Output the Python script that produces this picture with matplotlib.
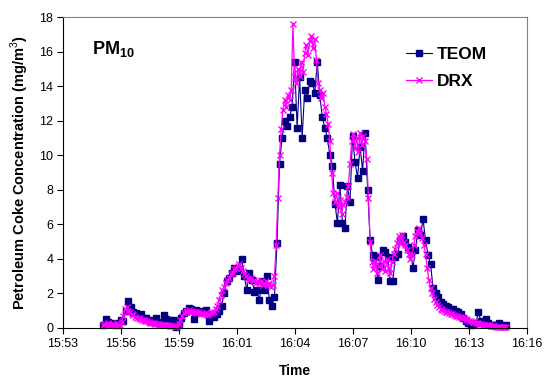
import numpy as np
import matplotlib
matplotlib.use('Agg')
import matplotlib.pyplot as plt

plt.rcParams['font.family'] = ['Liberation Sans', 'DejaVu Sans']
plt.rcParams['mathtext.fontset'] = 'custom'
plt.rcParams['mathtext.bf'] = 'Liberation Sans:bold'
plt.rcParams['mathtext.rm'] = 'Liberation Sans'

# time axis in minutes after 15:53
tick_pos = [0, 2.88, 5.76, 8.64, 11.52, 14.40, 17.28, 20.16, 23.04]
tick_labels = ['15:53', '15:56', '15:59', '16:01', '16:04', '16:07', '16:10', '16:13', '16:16']

# DRX: one reading every 5 s starting at 15:55
drx_start, drx_step = 2.0, 1 / 12
drx = [
    0.2, 0.25, 0.15, 0.3, 0.2, 0.15, 0.25, 0.2, 0.3, 0.2, 0.15, 0.35,
    0.7, 1.1, 1.2, 1.0, 0.9, 0.8, 0.75, 0.65, 0.6, 0.55, 0.5, 0.45,
    0.45, 0.4, 0.38, 0.35, 0.3, 0.3, 0.28, 0.25, 0.25, 0.22, 0.2, 0.2,
    0.2, 0.18, 0.15, 0.15, 0.12, 0.1, 0.1, 0.08, 0.1, 0.25, 0.45, 0.7,
    0.85, 0.95, 1.0, 1.05, 1.0, 0.95, 0.9, 0.95, 0.85, 0.9, 0.8, 0.85,
    0.8, 0.85, 0.75, 0.8, 0.9, 0.85, 0.9, 1.1, 1.3, 1.6, 1.9, 2.2,
    2.4, 2.6, 2.8, 2.9, 3.1, 3.2, 3.4, 3.5, 3.6, 3.7, 3.5, 3.3,
    3.1, 3.0, 2.9, 2.8, 2.9, 2.7, 2.8, 2.6, 2.7, 2.6, 2.7, 2.5,
    2.6, 2.7, 2.5, 2.6, 2.4, 2.5, 3.0, 4.8, 7.5, 10.0, 11.5, 12.6,
    13.2, 12.8, 13.5, 13.2, 13.8, 17.6, 14.5, 14.2, 15.0, 14.6, 15.4, 14.8,
    15.9, 16.4, 15.8, 16.6, 16.9, 16.2, 16.7, 15.5, 14.2, 13.8, 13.3, 13.6,
    12.8, 12.4, 11.8, 10.8, 9.0, 7.8, 7.3, 7.8, 7.0, 7.4, 6.6, 7.1,
    7.3, 7.6, 8.2, 9.5, 10.8, 11.2, 10.4, 11.0, 10.2, 11.3, 10.6, 11.1,
    10.8, 9.8, 7.5, 5.0, 3.8, 3.4, 3.9, 3.2, 3.6, 4.2, 3.4, 3.9,
    3.3, 4.0, 3.5, 3.2, 3.8, 4.3, 4.6, 4.9, 5.3, 4.9, 5.4, 5.0,
    4.8, 4.5, 4.3, 4.0, 4.2, 4.8, 5.3, 5.6, 5.8, 5.5, 5.2, 4.8,
    4.3, 3.5, 2.8, 2.3, 2.0, 1.7, 1.5, 1.35, 1.2, 1.1, 1.05, 1.0,
    0.95, 0.9, 0.85, 0.82, 0.8, 0.75, 0.72, 0.7, 0.65, 0.62, 0.6, 0.55,
    0.5, 0.45, 0.42, 0.4, 0.35, 0.32, 0.3, 0.28, 0.25, 0.22, 0.2, 0.2,
    0.18, 0.15, 0.15, 0.12, 0.1, 0.1, 0.08, 0.08, 0.07, 0.06, 0.06, 0.05,
    0.05,
]

# TEOM: one reading every 7.5 s starting at 15:55
teom_start, teom_step = 2.0, 1 / 8
teom = [
    0.2, 0.5, 0.35, 0.3, 0.25, 0.2, 0.3, 0.45,
    0.4, 1.0, 1.55, 1.2, 0.9, 0.85, 0.75, 0.8,
    0.6, 0.55, 0.45, 0.4, 0.35, 0.55, 0.3, 0.35,
    0.75, 0.5, 0.45, 0.3, 0.45, 0.05, 0.2, 0.6,
    0.85, 1.0, 1.15, 1.1, 0.5, 1.05, 0.9, 1.0,
    0.95, 1.05, 0.4, 0.7, 0.65, 0.8, 1.0, 1.3,
    2.0, 2.7, 2.9, 3.2, 3.5, 3.3, 3.4, 4.0,
    3.0, 2.2, 3.2, 2.8, 2.1, 2.2, 1.6, 2.7,
    2.2, 3.0, 1.6, 1.3, 1.8, 4.9, 9.5, 11.0,
    12.0, 11.7, 12.2, 12.8, 15.4, 11.6, 14.5, 11.0,
    13.8, 13.3, 14.3, 14.2, 13.6, 15.4, 13.5, 12.2,
    11.6, 11.0, 10.0, 9.4, 7.2, 6.1, 8.3, 6.1,
    5.8, 8.2, 7.3, 11.1, 9.6, 8.7, 10.5, 9.1,
    11.3, 8.0, 5.1, 4.2, 4.1, 2.8, 3.6, 4.5,
    4.4, 4.1, 2.7, 2.7, 4.1, 4.3, 5.1, 5.3,
    5.0, 4.7, 4.5, 3.5, 4.5, 5.7, 5.4, 6.3,
    5.1, 4.2, 3.7, 2.3, 2.0, 1.8, 1.5, 1.4,
    1.3, 1.2, 1.1, 1.1, 1.0, 0.95, 0.8, 0.6,
    0.4, 0.3, 0.2, 0.25, 0.3, 0.9, 0.4, 0.35,
    0.5, 0.3, 0.2, 0.15, 0.2, 0.3, 0.15, 0.1,
    0.15,
]

t_drx = drx_start + drx_step * np.arange(len(drx))
t_teom = teom_start + teom_step * np.arange(len(teom))

fig = plt.figure(figsize=(5.44, 3.79), dpi=100)
ax = fig.add_axes([0.1158, 0.1346, 0.853, 0.8205])

ax.plot(t_teom, teom, color='#000080', lw=0.8, marker='s', ms=3.8,
        mec='#000080', mfc='#000080', label='TEOM', clip_on=False)
ax.plot(t_drx, drx, color='#FF00FF', lw=0.9, marker='x', ms=4.6, mew=1.0,
        label='DRX', clip_on=False)

ax.set_xlim(0, 23.04)
ax.set_ylim(0, 18)
ax.set_xticks(tick_pos)
ax.set_xticklabels(tick_labels)
ax.set_yticks(np.arange(0, 19, 2))
ax.tick_params(axis='both', direction='out', length=4, width=0.8, labelsize=9, pad=3)
for side in ['top', 'right']:
    ax.spines[side].set_color('#808080')
for side in ['left', 'bottom']:
    ax.spines[side].set_color('black')

ax.set_xlabel('Time', fontsize=10, fontweight='bold', labelpad=10)
ax.set_ylabel('Petroleum Coke Concentration (mg/m$^3$)', fontsize=10.5, fontweight='bold', labelpad=6)

ax.text(0.0625, 0.88, r'$\mathbf{PM_{10}}$', transform=ax.transAxes, fontsize=13, va='baseline')

ax.legend(loc='upper left', bbox_to_anchor=(0.705, 0.955), frameon=False,
          handlelength=1.5, handletextpad=0.3, labelspacing=0.7,
          prop={'weight': 'bold', 'size': 12.5})

fig.savefig('out.png', dpi=100)
